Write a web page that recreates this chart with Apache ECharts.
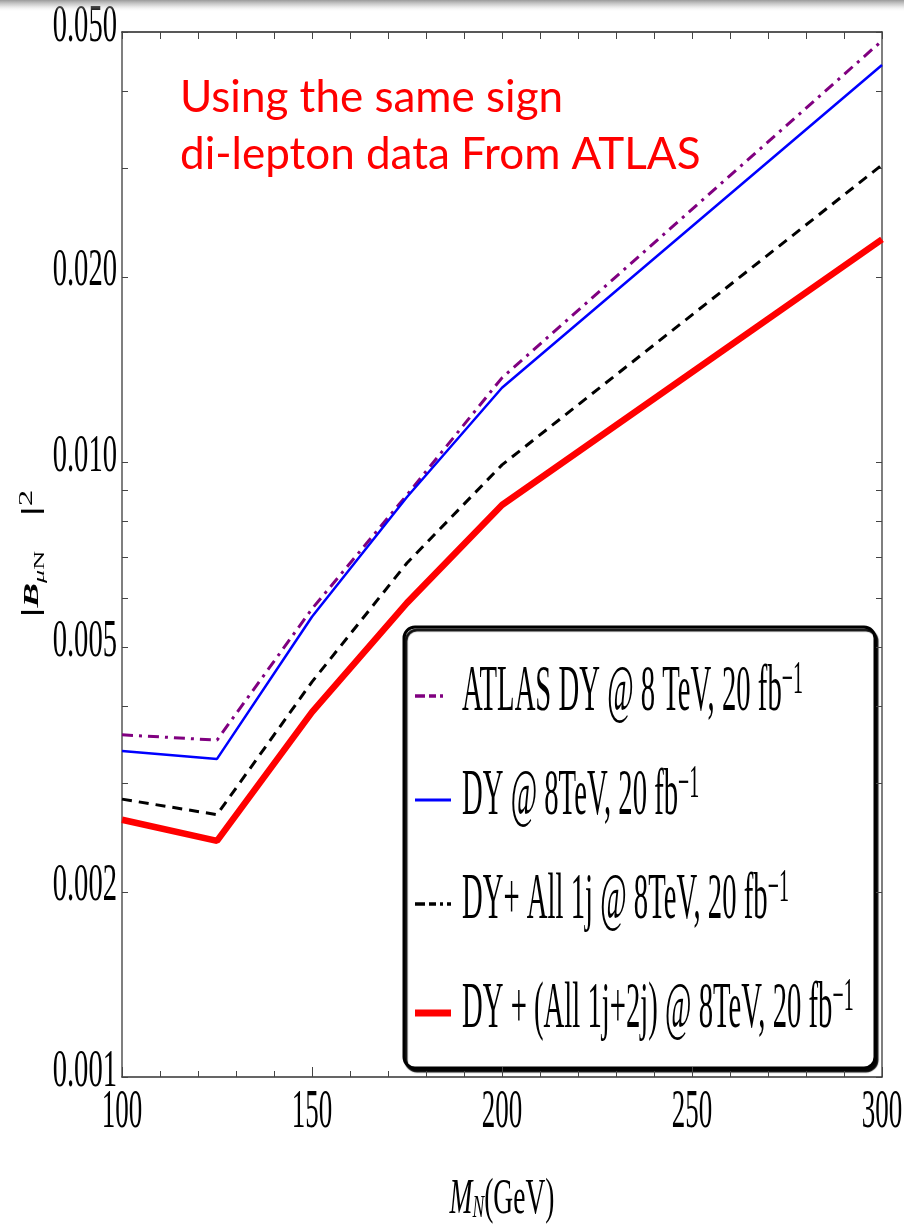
<!DOCTYPE html>
<html>
<head>
<meta charset="utf-8">
<title>|B_μN|² limits vs M_N</title>
<script src="https://cdn.jsdelivr.net/npm/echarts@6/dist/echarts.min.js"></script>
<style>
  html, body { margin: 0; padding: 0; background: #ffffff; }
  #chart { width: 904px; height: 1227px; }
</style>
</head>
<body>
<div id="chart"></div>
<script>
// Heavy-neutrino mass points (GeV)
const massGeV = [100, 125, 150, 175, 200, 300];

// Upper limits on |B_μN|^2 for each analysis
const atlasDY    = [0.00360, 0.00353, 0.00577, 0.00884, 0.0137, 0.0484];
const dyOnly     = [0.00339, 0.00329, 0.00560, 0.00877, 0.0132, 0.0442];
const dyPlus1j   = [0.00283, 0.00267, 0.00439, 0.00685, 0.00989, 0.0304];
const dyPlus1j2j = [0.00262, 0.00242, 0.00392, 0.00590, 0.00851, 0.0230];

const seriesNames = [
  'ATLAS DY @ 8 TeV, 20 fb',
  'DY @ 8TeV, 20 fb',
  'DY+ All 1j @ 8TeV, 20 fb',
  'DY + (All 1j+2j) @ 8TeV, 20 fb'
];

// Axis ticks and labels
const yTickLabels = [0.001, 0.002, 0.005, 0.010, 0.020, 0.050];
const yTickMarks  = [0.001, 0.002, 0.003, 0.004, 0.005, 0.006, 0.007, 0.008, 0.009,
                     0.01, 0.02, 0.03, 0.04, 0.05];
const xTickLabels = [100, 150, 200, 250, 300];

const SERIF = '"Liberation Serif", "Times New Roman", serif';
const lineStyles = [
  { color: '#800080', width: 3,   type: [11, 6, 3, 6] },
  { color: '#0000ff', width: 2.5, type: 'solid' },
  { color: '#000000', width: 3,   type: [10, 7] },
  { color: '#ff0000', width: 6.5, type: 'solid' }
];
const curves = [atlasDY, dyOnly, dyPlus1j, dyPlus1j2j];

const chart = echarts.init(document.getElementById('chart'), null, { renderer: 'canvas' });

function xAxisDef(pos, majorLen, minorLen, color) {
  return {
    type: 'value', position: pos, min: 100, max: 300, interval: 50,
    axisLine: { show: true, onZero: false, lineStyle: { color: color, width: 1.5 } },
    axisTick: { show: true, inside: true, length: majorLen, lineStyle: { color: '#444', width: 1 } },
    minorTick: { show: true, splitNumber: 5, length: minorLen, lineStyle: { color: '#444', width: 1 } },
    axisLabel: { show: false },
    splitLine: { show: false },
    minorSplitLine: { show: false }
  };
}
function yAxisDef(pos) {
  return {
    type: 'log', logBase: 10, position: pos, min: 0.001, max: 0.05,
    axisLine: { show: true, onZero: false, lineStyle: { color: '#555', width: 1.5 } },
    axisTick: { show: true, inside: true, length: 6, customValues: yTickMarks,
                lineStyle: { color: '#444', width: 1 } },
    axisLabel: { show: false },
    splitLine: { show: false }
  };
}

chart.setOption({
  animation: false,
  backgroundColor: '#ffffff',
  grid: { left: 122, right: 22, top: 32, bottom: 150 },
  xAxis: [xAxisDef('bottom', 10, 6, '#333'), xAxisDef('top', 7, 7, '#222')],
  yAxis: [yAxisDef('left'), yAxisDef('right')],
  series: curves.map((vals, i) => ({
    type: 'line',
    name: seriesNames[i],
    xAxisIndex: 0,
    yAxisIndex: 0,
    showSymbol: false,
    silent: true,
    z: 2 + i,
    data: massGeV.map((m, j) => [m, vals[j]]),
    lineStyle: lineStyles[i]
  }))
});

// Text and legend drawn as graphic elements, positioned from the axis scales
const toPx = (x, y) => chart.convertToPixel({ seriesIndex: 0 }, [x, y]);
const graphics = [];

// top shading band
graphics.push({
  type: 'rect', shape: { x: 0, y: 0, width: 904, height: 12 }, silent: true, z: 100,
  style: { fill: new echarts.graphic.LinearGradient(0, 0, 0, 1, [
    { offset: 0, color: 'rgba(120,120,120,0.75)' },
    { offset: 0.45, color: 'rgba(170,170,170,0.45)' },
    { offset: 1, color: 'rgba(255,255,255,0)' }
  ]) }
});

// y tick labels
yTickLabels.forEach(v => {
  const p = toPx(100, v);
  graphics.push({
    type: 'text', x: p[0] - 5, y: p[1] - 5, scaleX: 0.55, silent: true,
    style: { text: v.toFixed(3), font: '52px ' + SERIF, fill: '#000', lineHeight: 40,
             align: 'right', verticalAlign: 'middle' }
  });
});

// x tick labels
xTickLabels.forEach(v => {
  const p = toPx(v, 0.001);
  graphics.push({
    type: 'text', x: p[0], y: p[1] + 36, scaleX: 0.5, silent: true,
    style: { text: String(v), font: '54px ' + SERIF, fill: '#000', lineHeight: 42,
             align: 'center', verticalAlign: 'middle' }
  });
});

// x axis title M_N(GeV)
const xMid = toPx(200, 0.001);
graphics.push({
  type: 'text', x: xMid[0], y: xMid[1] + 123, scaleX: 0.55, silent: true,
  style: {
    text: '{m|M}{n|N}{r|(GeV)}', align: 'center', verticalAlign: 'middle',
    rich: {
      m: { font: 'italic 50px ' + SERIF, fill: '#000', lineHeight: 50 },
      n: { font: 'italic 32px ' + SERIF, fill: '#000', lineHeight: 28, verticalAlign: 'bottom' },
      r: { font: '50px ' + SERIF, fill: '#000', lineHeight: 50 }
    }
  }
});

// y axis title |B_μN|^2, reading bottom to top, stretched along its length
const yMid = toPx(100, 0.0071);
graphics.push({
  type: 'text', x: 33, y: yMid[1], rotation: Math.PI / 2, scaleX: 1.75, silent: true,
  style: {
    text: '{bar||}{b|B}{s1|μ}{s2|N}{bar2||}{sup|2}', align: 'center', verticalAlign: 'middle',
    rich: {
      bar:  { font: 'bold 25px ' + SERIF, fill: '#000', lineHeight: 30 },
      bar2: { font: 'bold 25px ' + SERIF, fill: '#000', lineHeight: 30, padding: [0, 0, 0, 20] },
      b:    { font: 'italic bold 21px ' + SERIF, fill: '#000', lineHeight: 30 },
      s1:   { font: 'italic 15px ' + SERIF, fill: '#000', lineHeight: 20, verticalAlign: 'bottom' },
      s2:   { font: '15px ' + SERIF, fill: '#000', lineHeight: 20, verticalAlign: 'bottom' },
      sup:  { font: '19px ' + SERIF, fill: '#000', lineHeight: 18, verticalAlign: 'top' }
    }
  }
});

// annotation
graphics.push({
  type: 'text', x: 180, y: 69, silent: true,
  style: {
    text: 'Using the same sign\ndi-lepton data From ATLAS',
    font: '44px Lato, "Open Sans", sans-serif', fill: '#ff0000',
    lineHeight: 57, align: 'left', verticalAlign: 'top'
  }
});

// legend box
const legBox = { x: 404, y: 627, w: 471, h: 441 };
const legRows = [693, 797, 901, 1010];
const legend = [{
  type: 'rect', silent: true,
  shape: { x: legBox.x, y: legBox.y, width: legBox.w, height: legBox.h, r: 11 },
  style: { fill: '#ffffff', stroke: '#000', lineWidth: 3,
           shadowColor: 'rgba(0,0,0,0.95)', shadowOffsetX: 2, shadowOffsetY: 3, shadowBlur: 1 }
}];
seriesNames.forEach((name, i) => {
  const ls = lineStyles[i];
  const yy = legRows[i];
  legend.push({
    type: 'line', silent: true,
    shape: { x1: 415, y1: yy + 3, x2: i === 0 ? 444 : 451, y2: yy + 3 },
    style: { stroke: ls.color, lineWidth: ls.width + 0.5,
             lineDash: Array.isArray(ls.type) ? [10, 4, 7, 4, 3, 4] : null }
  });
  legend.push({
    type: 'text', x: 462, y: yy, scaleX: 0.435, silent: true,
    style: {
      text: '{t|' + name + '}{sup|−1}', align: 'left', verticalAlign: 'middle',
      rich: {
        t:   { font: '66px ' + SERIF, fill: '#000', lineHeight: 70 },
        sup: { font: '46px ' + SERIF, fill: '#000', lineHeight: 34, verticalAlign: 'top' }
      }
    }
  });
});
graphics.push({ type: 'group', z: 50, children: legend });

chart.setOption({ graphic: graphics });
</script>
</body>
</html>
